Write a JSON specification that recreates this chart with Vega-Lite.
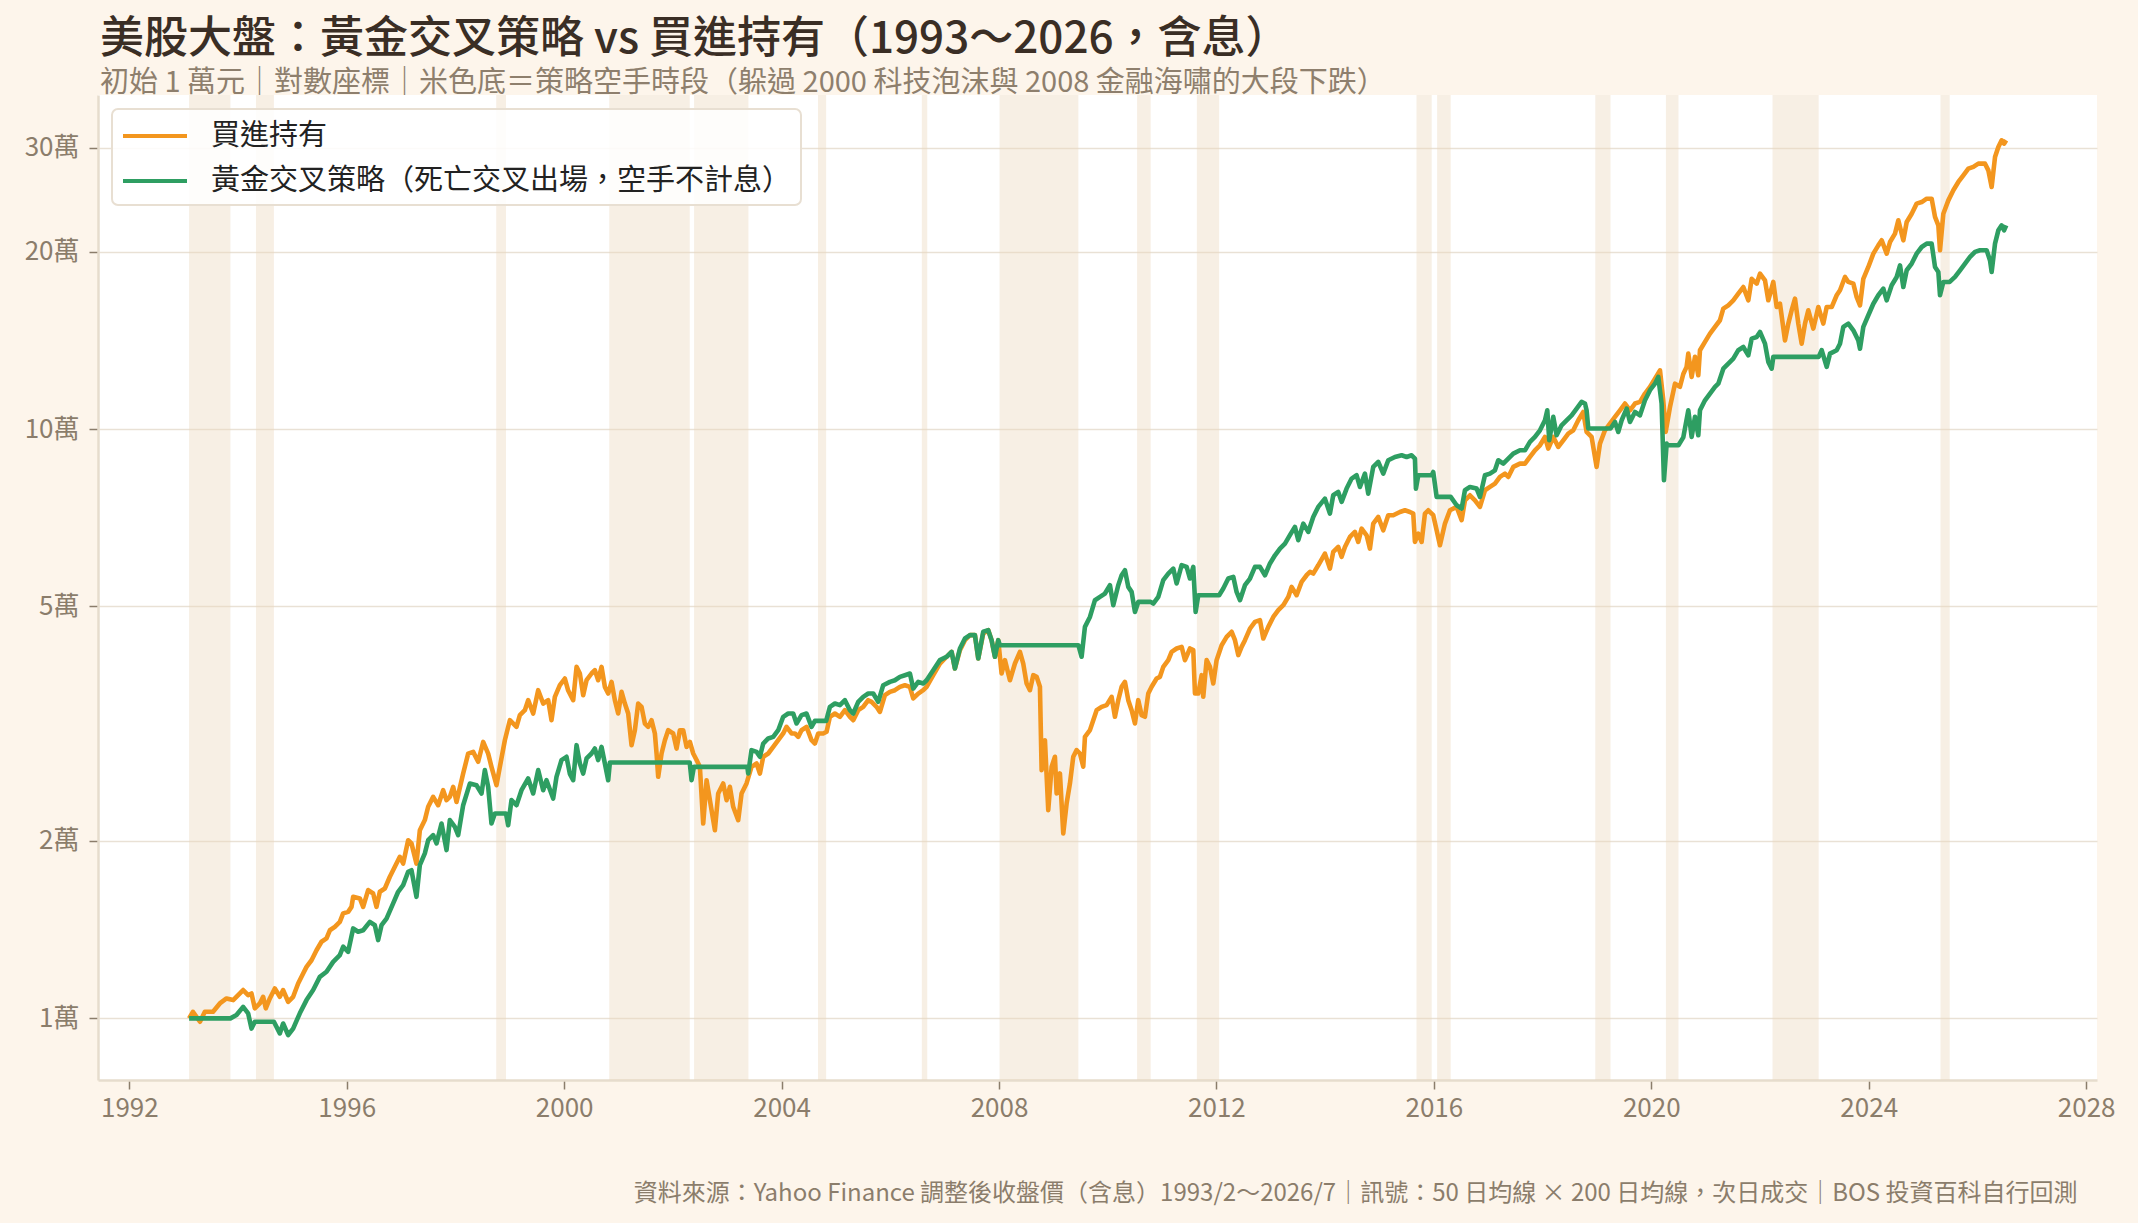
{
  "$schema": "https://vega.github.io/schema/vega-lite/v6.json",
  "width": 1999,
  "height": 985,
  "autosize": {"type": "none"},
  "padding": {"left": 98, "top": 95, "right": 41, "bottom": 143},
  "background": "#FDF5EB",
  "title": {
    "text": "美股大盤：黃金交叉策略 vs 買進持有（1993～2026，含息）",
    "subtitle": "初始 1 萬元｜對數座標｜米色底＝策略空手時段（躲過 2000 科技泡沫與 2008 金融海嘯的大段下跌）",
    "anchor": "start",
    "frame": "group",
    "offset": -3,
    "dx": 2,
    "font": "Noto Sans CJK TC",
    "fontSize": 44,
    "fontWeight": 500,
    "color": "#3A2E25",
    "subtitleFont": "Noto Sans CJK TC",
    "subtitleFontSize": 29,
    "subtitleColor": "#8E7F6D",
    "subtitlePadding": 7
  },
  "config": {
    "font": "Noto Sans CJK TC",
    "view": {"fill": "white", "stroke": null},
    "axisX": {
      "domainColor": "#E6DCCD", "domainWidth": 2.5,
      "tickColor": "#8B7D6B", "tickWidth": 1.5, "tickSize": 9,
      "labelColor": "#8B7D6B", "labelFontSize": 26, "labelPadding": 6,
      "labelFont": "Noto Sans CJK TC",
      "grid": false,
      "titleFont": "Noto Sans CJK TC", "titleFontSize": 24, "titleFontWeight": "normal",
      "titleColor": "#8B7D6B", "titleX": 1979, "titleY": 113,
      "titleAlign": "right", "titleBaseline": "middle"
    },
    "axisY": {
      "domainColor": "#E6DCCD", "domainWidth": 2.5,
      "tickColor": "#8B7D6B", "tickWidth": 1.5, "tickSize": 9,
      "labelColor": "#8B7D6B", "labelFontSize": 26, "labelPadding": 10,
      "labelFont": "Noto Sans CJK TC",
      "grid": true, "gridColor": "#E9E1D5", "gridWidth": 1.5,
      "title": null
    },
    "legend": {
      "orient": "top-left", "offset": 14,
      "symbolType": "M-1,0H3", "symbolSize": 1024, "symbolStrokeWidth": 4,
      "labelFont": "Noto Sans CJK TC", "labelFontSize": 29, "labelColor": "#222222",
      "labelOffset": 54, "labelLimit": 0,
      "padding": 9, "rowPadding": 12,
      "fillColor": "rgba(255,255,255,0.85)", "strokeColor": "#E8DFD2",
      "strokeWidth": 2, "cornerRadius": 6
    }
  },
  "datasets": {
    "bands": [
      {"year": 1993.10, "year_end": 1993.86},
      {"year": 1994.33, "year_end": 1994.66},
      {"year": 1998.75, "year_end": 1998.93},
      {"year": 2000.83, "year_end": 2002.31},
      {"year": 2002.39, "year_end": 2003.39},
      {"year": 2004.67, "year_end": 2004.82},
      {"year": 2006.58, "year_end": 2006.68},
      {"year": 2008.01, "year_end": 2009.46},
      {"year": 2010.54, "year_end": 2010.79},
      {"year": 2011.64, "year_end": 2012.05},
      {"year": 2015.68, "year_end": 2015.96},
      {"year": 2016.06, "year_end": 2016.31},
      {"year": 2018.97, "year_end": 2019.25},
      {"year": 2020.27, "year_end": 2020.50},
      {"year": 2022.23, "year_end": 2023.08},
      {"year": 2025.32, "year_end": 2025.49}
    ],
    "buyhold": [
      {"year":1993.10,"value":1.00,"series":"買進持有"},
      {"year":1993.17,"value":1.026,"series":"買進持有"},
      {"year":1993.30,"value":0.987,"series":"買進持有"},
      {"year":1993.39,"value":1.026,"series":"買進持有"},
      {"year":1993.54,"value":1.026,"series":"買進持有"},
      {"year":1993.665,"value":1.06,"series":"買進持有"},
      {"year":1993.788,"value":1.081,"series":"買進持有"},
      {"year":1993.91,"value":1.074,"series":"買進持有"},
      {"year":1994.094,"value":1.117,"series":"買進持有"},
      {"year":1994.186,"value":1.095,"series":"買進持有"},
      {"year":1994.248,"value":1.102,"series":"買進持有"},
      {"year":1994.309,"value":1.04,"series":"買進持有"},
      {"year":1994.401,"value":1.06,"series":"買進持有"},
      {"year":1994.462,"value":1.088,"series":"買進持有"},
      {"year":1994.511,"value":1.04,"series":"買進持有"},
      {"year":1994.585,"value":1.081,"series":"買進持有"},
      {"year":1994.677,"value":1.124,"series":"買進持有"},
      {"year":1994.769,"value":1.088,"series":"買進持有"},
      {"year":1994.83,"value":1.117,"series":"買進持有"},
      {"year":1994.922,"value":1.067,"series":"買進持有"},
      {"year":1995.014,"value":1.088,"series":"買進持有"},
      {"year":1995.106,"value":1.146,"series":"買進持有"},
      {"year":1995.198,"value":1.192,"series":"買進持有"},
      {"year":1995.26,"value":1.223,"series":"買進持有"},
      {"year":1995.352,"value":1.255,"series":"買進持有"},
      {"year":1995.444,"value":1.305,"series":"買進持有"},
      {"year":1995.536,"value":1.349,"series":"買進持有"},
      {"year":1995.628,"value":1.367,"series":"買進持有"},
      {"year":1995.689,"value":1.411,"series":"買進持有"},
      {"year":1995.781,"value":1.43,"series":"買進持有"},
      {"year":1995.873,"value":1.458,"series":"買進持有"},
      {"year":1995.934,"value":1.507,"series":"買進持有"},
      {"year":1996.026,"value":1.516,"series":"買進持有"},
      {"year":1996.088,"value":1.546,"series":"買進持有"},
      {"year":1996.118,"value":1.608,"series":"買進持有"},
      {"year":1996.241,"value":1.598,"series":"買進持有"},
      {"year":1996.302,"value":1.546,"series":"買進持有"},
      {"year":1996.394,"value":1.651,"series":"買進持有"},
      {"year":1996.486,"value":1.629,"series":"買進持有"},
      {"year":1996.548,"value":1.546,"series":"買進持有"},
      {"year":1996.609,"value":1.64,"series":"買進持有"},
      {"year":1996.701,"value":1.661,"series":"買進持有"},
      {"year":1996.793,"value":1.739,"series":"買進持有"},
      {"year":1996.885,"value":1.808,"series":"買進持有"},
      {"year":1996.977,"value":1.88,"series":"買進持有"},
      {"year":1997.038,"value":1.831,"series":"買進持有"},
      {"year":1997.13,"value":2.006,"series":"買進持有"},
      {"year":1997.191,"value":1.981,"series":"買進持有"},
      {"year":1997.283,"value":1.831,"series":"買進持有"},
      {"year":1997.345,"value":2.086,"series":"買進持有"},
      {"year":1997.437,"value":2.17,"series":"買進持有"},
      {"year":1997.498,"value":2.286,"series":"買進持有"},
      {"year":1997.59,"value":2.376,"series":"買進持有"},
      {"year":1997.682,"value":2.3,"series":"買進持有"},
      {"year":1997.774,"value":2.439,"series":"買進持有"},
      {"year":1997.836,"value":2.346,"series":"買進持有"},
      {"year":1997.897,"value":2.376,"series":"買進持有"},
      {"year":1997.958,"value":2.471,"series":"買進持有"},
      {"year":1998.02,"value":2.33,"series":"買進持有"},
      {"year":1998.142,"value":2.603,"series":"買進持有"},
      {"year":1998.234,"value":2.814,"series":"買進持有"},
      {"year":1998.326,"value":2.833,"series":"買進持有"},
      {"year":1998.418,"value":2.725,"series":"買進持有"},
      {"year":1998.51,"value":2.945,"series":"買進持有"},
      {"year":1998.602,"value":2.814,"series":"買進持有"},
      {"year":1998.663,"value":2.672,"series":"買進持有"},
      {"year":1998.755,"value":2.487,"series":"買進持有"},
      {"year":1998.817,"value":2.672,"series":"買進持有"},
      {"year":1998.909,"value":2.965,"series":"買進持有"},
      {"year":1999.001,"value":3.206,"series":"買進持有"},
      {"year":1999.123,"value":3.124,"series":"買進持有"},
      {"year":1999.185,"value":3.27,"series":"買進持有"},
      {"year":1999.277,"value":3.334,"series":"買進持有"},
      {"year":1999.338,"value":3.467,"series":"買進持有"},
      {"year":1999.43,"value":3.291,"series":"買進持有"},
      {"year":1999.522,"value":3.605,"series":"買進持有"},
      {"year":1999.614,"value":3.422,"series":"買進持有"},
      {"year":1999.706,"value":3.467,"series":"買進持有"},
      {"year":1999.767,"value":3.206,"series":"買進持有"},
      {"year":1999.829,"value":3.513,"series":"買進持有"},
      {"year":1999.921,"value":3.676,"series":"買進持有"},
      {"year":2000.013,"value":3.773,"series":"買進持有"},
      {"year":2000.074,"value":3.6,"series":"買進持有"},
      {"year":2000.166,"value":3.467,"series":"買進持有"},
      {"year":2000.228,"value":3.949,"series":"買進持有"},
      {"year":2000.289,"value":3.848,"series":"買進持有"},
      {"year":2000.35,"value":3.535,"series":"買進持有"},
      {"year":2000.412,"value":3.748,"series":"買進持有"},
      {"year":2000.504,"value":3.848,"series":"買進持有"},
      {"year":2000.565,"value":3.898,"series":"買進持有"},
      {"year":2000.626,"value":3.748,"series":"買進持有"},
      {"year":2000.688,"value":3.949,"series":"買進持有"},
      {"year":2000.749,"value":3.652,"series":"買進持有"},
      {"year":2000.81,"value":3.558,"series":"買進持有"},
      {"year":2000.872,"value":3.724,"series":"買進持有"},
      {"year":2000.933,"value":3.467,"series":"買進持有"},
      {"year":2000.994,"value":3.291,"series":"買進持有"},
      {"year":2001.056,"value":3.582,"series":"買進持有"},
      {"year":2001.117,"value":3.422,"series":"買進持有"},
      {"year":2001.178,"value":3.291,"series":"買進持有"},
      {"year":2001.24,"value":2.908,"series":"買進持有"},
      {"year":2001.301,"value":3.083,"series":"買進持有"},
      {"year":2001.362,"value":3.422,"series":"買進持有"},
      {"year":2001.424,"value":3.378,"series":"買進持有"},
      {"year":2001.485,"value":3.165,"series":"買進持有"},
      {"year":2001.546,"value":3.124,"series":"買進持有"},
      {"year":2001.608,"value":3.206,"series":"買進持有"},
      {"year":2001.669,"value":3.044,"series":"買進持有"},
      {"year":2001.70,"value":2.815,"series":"買進持有"},
      {"year":2001.73,"value":2.57,"series":"買進持有"},
      {"year":2001.792,"value":2.815,"series":"買進持有"},
      {"year":2001.853,"value":2.965,"series":"買進持有"},
      {"year":2001.914,"value":3.083,"series":"買進持有"},
      {"year":2002.006,"value":3.044,"series":"買進持有"},
      {"year":2002.068,"value":2.87,"series":"買進持有"},
      {"year":2002.129,"value":3.083,"series":"買進持有"},
      {"year":2002.19,"value":3.083,"series":"買進持有"},
      {"year":2002.252,"value":2.889,"series":"買進持有"},
      {"year":2002.313,"value":2.945,"series":"買進持有"},
      {"year":2002.374,"value":2.815,"series":"買進持有"},
      {"year":2002.436,"value":2.744,"series":"買進持有"},
      {"year":2002.497,"value":2.672,"series":"買進持有"},
      {"year":2002.558,"value":2.141,"series":"買進持有"},
      {"year":2002.62,"value":2.536,"series":"買進持有"},
      {"year":2002.681,"value":2.346,"series":"買進持有"},
      {"year":2002.773,"value":2.086,"series":"買進持有"},
      {"year":2002.834,"value":2.408,"series":"買進持有"},
      {"year":2002.926,"value":2.504,"series":"買進持有"},
      {"year":2002.988,"value":2.346,"series":"買進持有"},
      {"year":2003.049,"value":2.471,"series":"買進持有"},
      {"year":2003.11,"value":2.286,"series":"買進持有"},
      {"year":2003.202,"value":2.17,"series":"買進持有"},
      {"year":2003.264,"value":2.408,"series":"買進持有"},
      {"year":2003.355,"value":2.504,"series":"買進持有"},
      {"year":2003.447,"value":2.672,"series":"買進持有"},
      {"year":2003.54,"value":2.707,"series":"買進持有"},
      {"year":2003.601,"value":2.603,"series":"買進持有"},
      {"year":2003.662,"value":2.779,"series":"買進持有"},
      {"year":2003.754,"value":2.815,"series":"買進持有"},
      {"year":2003.846,"value":2.889,"series":"買進持有"},
      {"year":2003.938,"value":2.965,"series":"買進持有"},
      {"year":2004.03,"value":3.044,"series":"買進持有"},
      {"year":2004.091,"value":3.124,"series":"買進持有"},
      {"year":2004.183,"value":3.044,"series":"買進持有"},
      {"year":2004.245,"value":3.044,"series":"買進持有"},
      {"year":2004.306,"value":3.004,"series":"買進持有"},
      {"year":2004.367,"value":3.083,"series":"買進持有"},
      {"year":2004.459,"value":3.124,"series":"買進持有"},
      {"year":2004.551,"value":2.965,"series":"買進持有"},
      {"year":2004.613,"value":2.927,"series":"買進持有"},
      {"year":2004.674,"value":3.044,"series":"買進持有"},
      {"year":2004.766,"value":3.044,"series":"買進持有"},
      {"year":2004.828,"value":3.064,"series":"買進持有"},
      {"year":2004.889,"value":3.249,"series":"買進持有"},
      {"year":2004.981,"value":3.291,"series":"買進持有"},
      {"year":2005.073,"value":3.249,"series":"買進持有"},
      {"year":2005.165,"value":3.334,"series":"買進持有"},
      {"year":2005.257,"value":3.249,"series":"買進持有"},
      {"year":2005.318,"value":3.206,"series":"買進持有"},
      {"year":2005.41,"value":3.334,"series":"買進持有"},
      {"year":2005.502,"value":3.378,"series":"買進持有"},
      {"year":2005.594,"value":3.467,"series":"買進持有"},
      {"year":2005.656,"value":3.444,"series":"買進持有"},
      {"year":2005.747,"value":3.378,"series":"買進持有"},
      {"year":2005.809,"value":3.312,"series":"買進持有"},
      {"year":2005.901,"value":3.535,"series":"買進持有"},
      {"year":2005.993,"value":3.582,"series":"買進持有"},
      {"year":2006.085,"value":3.605,"series":"買進持有"},
      {"year":2006.177,"value":3.652,"series":"買進持有"},
      {"year":2006.269,"value":3.676,"series":"買進持有"},
      {"year":2006.361,"value":3.652,"series":"買進持有"},
      {"year":2006.422,"value":3.49,"series":"買進持有"},
      {"year":2006.514,"value":3.558,"series":"買進持有"},
      {"year":2006.606,"value":3.605,"series":"買進持有"},
      {"year":2006.668,"value":3.652,"series":"買進持有"},
      {"year":2006.79,"value":3.822,"series":"買進持有"},
      {"year":2006.913,"value":4.0,"series":"買進持有"},
      {"year":2007.036,"value":4.108,"series":"買進持有"},
      {"year":2007.128,"value":4.188,"series":"買進持有"},
      {"year":2007.189,"value":3.924,"series":"買進持有"},
      {"year":2007.281,"value":4.216,"series":"買進持有"},
      {"year":2007.373,"value":4.383,"series":"買進持有"},
      {"year":2007.465,"value":4.47,"series":"買進持有"},
      {"year":2007.557,"value":4.47,"series":"買進持有"},
      {"year":2007.618,"value":4.08,"series":"買進持有"},
      {"year":2007.71,"value":4.498,"series":"買進持有"},
      {"year":2007.802,"value":4.558,"series":"買進持有"},
      {"year":2007.864,"value":4.383,"series":"買進持有"},
      {"year":2007.925,"value":4.108,"series":"買進持有"},
      {"year":2007.986,"value":4.383,"series":"買進持有"},
      {"year":2008.048,"value":3.848,"series":"買進持有"},
      {"year":2008.109,"value":4.054,"series":"買進持有"},
      {"year":2008.201,"value":3.748,"series":"買進持有"},
      {"year":2008.293,"value":4.001,"series":"買進持有"},
      {"year":2008.385,"value":4.188,"series":"買進持有"},
      {"year":2008.446,"value":4.001,"series":"買進持有"},
      {"year":2008.508,"value":3.7,"series":"買進持有"},
      {"year":2008.569,"value":3.605,"series":"買進持有"},
      {"year":2008.63,"value":3.823,"series":"買進持有"},
      {"year":2008.692,"value":3.798,"series":"買進持有"},
      {"year":2008.753,"value":3.653,"series":"買進持有"},
      {"year":2008.784,"value":2.638,"series":"買進持有"},
      {"year":2008.845,"value":2.965,"series":"買進持有"},
      {"year":2008.906,"value":2.256,"series":"買進持有"},
      {"year":2008.968,"value":2.673,"series":"買進持有"},
      {"year":2009.029,"value":2.779,"series":"買進持有"},
      {"year":2009.06,"value":2.408,"series":"買進持有"},
      {"year":2009.121,"value":2.604,"series":"買進持有"},
      {"year":2009.182,"value":2.06,"series":"買進持有"},
      {"year":2009.244,"value":2.316,"series":"買進持有"},
      {"year":2009.305,"value":2.504,"series":"買進持有"},
      {"year":2009.366,"value":2.779,"series":"買進持有"},
      {"year":2009.428,"value":2.852,"series":"買進持有"},
      {"year":2009.489,"value":2.815,"series":"買進持有"},
      {"year":2009.55,"value":2.673,"series":"買進持有"},
      {"year":2009.581,"value":3.005,"series":"買進持有"},
      {"year":2009.673,"value":3.084,"series":"買進持有"},
      {"year":2009.734,"value":3.206,"series":"買進持有"},
      {"year":2009.796,"value":3.334,"series":"買進持有"},
      {"year":2009.888,"value":3.378,"series":"買進持有"},
      {"year":2009.98,"value":3.4,"series":"買進持有"},
      {"year":2010.072,"value":3.513,"series":"買進持有"},
      {"year":2010.133,"value":3.249,"series":"買進持有"},
      {"year":2010.194,"value":3.467,"series":"買進持有"},
      {"year":2010.256,"value":3.653,"series":"買進持有"},
      {"year":2010.317,"value":3.725,"series":"買進持有"},
      {"year":2010.378,"value":3.467,"series":"買進持有"},
      {"year":2010.44,"value":3.334,"series":"買進持有"},
      {"year":2010.501,"value":3.166,"series":"買進持有"},
      {"year":2010.562,"value":3.467,"series":"買進持有"},
      {"year":2010.624,"value":3.27,"series":"買進持有"},
      {"year":2010.685,"value":3.249,"series":"買進持有"},
      {"year":2010.746,"value":3.559,"series":"買進持有"},
      {"year":2010.808,"value":3.653,"series":"買進持有"},
      {"year":2010.9,"value":3.773,"series":"買進持有"},
      {"year":2010.961,"value":3.798,"series":"買進持有"},
      {"year":2011.022,"value":3.949,"series":"買進持有"},
      {"year":2011.114,"value":4.054,"series":"買進持有"},
      {"year":2011.176,"value":4.188,"series":"買進持有"},
      {"year":2011.268,"value":4.243,"series":"買進持有"},
      {"year":2011.36,"value":4.27,"series":"買進持有"},
      {"year":2011.421,"value":4.054,"series":"買進持有"},
      {"year":2011.513,"value":4.243,"series":"買進持有"},
      {"year":2011.574,"value":4.216,"series":"買進持有"},
      {"year":2011.605,"value":3.559,"series":"買進持有"},
      {"year":2011.666,"value":3.559,"series":"買進持有"},
      {"year":2011.728,"value":3.823,"series":"買進持有"},
      {"year":2011.758,"value":3.513,"series":"買進持有"},
      {"year":2011.819,"value":4.054,"series":"買進持有"},
      {"year":2011.881,"value":3.949,"series":"買進持有"},
      {"year":2011.942,"value":3.7,"series":"買進持有"},
      {"year":2012.003,"value":4.054,"series":"買進持有"},
      {"year":2012.096,"value":4.298,"series":"買進持有"},
      {"year":2012.188,"value":4.44,"series":"買進持有"},
      {"year":2012.28,"value":4.529,"series":"買進持有"},
      {"year":2012.341,"value":4.383,"series":"買進持有"},
      {"year":2012.402,"value":4.135,"series":"買進持有"},
      {"year":2012.463,"value":4.27,"series":"買進持有"},
      {"year":2012.525,"value":4.383,"series":"買進持有"},
      {"year":2012.617,"value":4.587,"series":"買進持有"},
      {"year":2012.709,"value":4.707,"series":"買進持有"},
      {"year":2012.801,"value":4.739,"series":"買進持有"},
      {"year":2012.862,"value":4.412,"series":"買進持有"},
      {"year":2012.954,"value":4.617,"series":"買進持有"},
      {"year":2013.046,"value":4.8,"series":"買進持有"},
      {"year":2013.138,"value":4.927,"series":"買進持有"},
      {"year":2013.23,"value":5.025,"series":"買進持有"},
      {"year":2013.322,"value":5.19,"series":"買進持有"},
      {"year":2013.383,"value":5.398,"series":"買進持有"},
      {"year":2013.475,"value":5.225,"series":"買進持有"},
      {"year":2013.567,"value":5.505,"series":"買進持有"},
      {"year":2013.659,"value":5.649,"series":"買進持有"},
      {"year":2013.721,"value":5.724,"series":"買進持有"},
      {"year":2013.781,"value":5.686,"series":"買進持有"},
      {"year":2013.873,"value":5.873,"series":"買進持有"},
      {"year":2013.996,"value":6.147,"series":"買進持有"},
      {"year":2014.088,"value":5.798,"series":"買進持有"},
      {"year":2014.149,"value":6.188,"series":"買進持有"},
      {"year":2014.241,"value":6.31,"series":"買進持有"},
      {"year":2014.303,"value":6.069,"series":"買進持有"},
      {"year":2014.364,"value":6.31,"series":"買進持有"},
      {"year":2014.456,"value":6.561,"series":"買進持有"},
      {"year":2014.548,"value":6.691,"series":"買進持有"},
      {"year":2014.609,"value":6.434,"series":"買進持有"},
      {"year":2014.671,"value":6.778,"series":"買進持有"},
      {"year":2014.763,"value":6.604,"series":"買進持有"},
      {"year":2014.824,"value":6.269,"series":"買進持有"},
      {"year":2014.885,"value":6.912,"series":"買進持有"},
      {"year":2014.977,"value":7.094,"series":"買進持有"},
      {"year":2015.069,"value":6.734,"series":"買進持有"},
      {"year":2015.161,"value":7.142,"series":"買進持有"},
      {"year":2015.253,"value":7.142,"series":"買進持有"},
      {"year":2015.376,"value":7.234,"series":"買進持有"},
      {"year":2015.468,"value":7.281,"series":"買進持有"},
      {"year":2015.56,"value":7.234,"series":"買進持有"},
      {"year":2015.621,"value":7.188,"series":"買進持有"},
      {"year":2015.652,"value":6.434,"series":"買進持有"},
      {"year":2015.713,"value":6.647,"series":"買進持有"},
      {"year":2015.775,"value":6.434,"series":"買進持有"},
      {"year":2015.836,"value":7.188,"series":"買進持有"},
      {"year":2015.897,"value":7.281,"series":"買進持有"},
      {"year":2015.989,"value":7.142,"series":"買進持有"},
      {"year":2016.051,"value":6.734,"series":"買進持有"},
      {"year":2016.112,"value":6.352,"series":"買進持有"},
      {"year":2016.204,"value":6.912,"series":"買進持有"},
      {"year":2016.296,"value":7.281,"series":"買進持有"},
      {"year":2016.419,"value":7.378,"series":"買進持有"},
      {"year":2016.511,"value":7.004,"series":"買進持有"},
      {"year":2016.572,"value":7.571,"series":"買進持有"},
      {"year":2016.664,"value":7.721,"series":"買進持有"},
      {"year":2016.756,"value":7.571,"series":"買進持有"},
      {"year":2016.848,"value":7.378,"series":"買進持有"},
      {"year":2016.94,"value":7.873,"series":"買進持有"},
      {"year":2017.032,"value":7.976,"series":"買進持有"},
      {"year":2017.124,"value":8.081,"series":"買進持有"},
      {"year":2017.216,"value":8.294,"series":"買進持有"},
      {"year":2017.308,"value":8.401,"series":"買進持有"},
      {"year":2017.369,"value":8.294,"series":"買進持有"},
      {"year":2017.461,"value":8.625,"series":"買進持有"},
      {"year":2017.584,"value":8.737,"series":"買進持有"},
      {"year":2017.676,"value":8.737,"series":"買進持有"},
      {"year":2017.768,"value":8.968,"series":"買進持有"},
      {"year":2017.86,"value":9.204,"series":"買進持有"},
      {"year":2017.952,"value":9.386,"series":"買進持有"},
      {"year":2018.044,"value":9.696,"series":"買進持有"},
      {"year":2018.105,"value":9.267,"series":"買進持有"},
      {"year":2018.197,"value":9.696,"series":"買進持有"},
      {"year":2018.289,"value":9.326,"series":"買進持有"},
      {"year":2018.381,"value":9.572,"series":"買進持有"},
      {"year":2018.473,"value":9.824,"series":"買進持有"},
      {"year":2018.565,"value":9.954,"series":"買進持有"},
      {"year":2018.657,"value":10.35,"series":"買進持有"},
      {"year":2018.749,"value":10.69,"series":"買進持有"},
      {"year":2018.81,"value":9.888,"series":"買進持有"},
      {"year":2018.902,"value":9.696,"series":"買進持有"},
      {"year":2018.994,"value":8.625,"series":"買進持有"},
      {"year":2019.056,"value":9.447,"series":"買進持有"},
      {"year":2019.148,"value":9.954,"series":"買進持有"},
      {"year":2019.24,"value":10.22,"series":"買進持有"},
      {"year":2019.332,"value":10.49,"series":"買進持有"},
      {"year":2019.424,"value":10.76,"series":"買進持有"},
      {"year":2019.516,"value":11.05,"series":"買進持有"},
      {"year":2019.608,"value":10.76,"series":"買進持有"},
      {"year":2019.70,"value":11.05,"series":"買進持有"},
      {"year":2019.792,"value":11.12,"series":"買進持有"},
      {"year":2019.884,"value":11.49,"series":"買進持有"},
      {"year":2019.976,"value":11.79,"series":"買進持有"},
      {"year":2020.068,"value":12.18,"series":"買進持有"},
      {"year":2020.16,"value":12.58,"series":"買進持有"},
      {"year":2020.221,"value":11.19,"series":"買進持有"},
      {"year":2020.265,"value":9.89,"series":"買進持有"},
      {"year":2020.344,"value":10.9,"series":"買進持有"},
      {"year":2020.436,"value":11.94,"series":"買進持有"},
      {"year":2020.528,"value":11.8,"series":"買進持有"},
      {"year":2020.589,"value":12.4,"series":"買進持有"},
      {"year":2020.65,"value":12.75,"series":"買進持有"},
      {"year":2020.681,"value":13.43,"series":"買進持有"},
      {"year":2020.743,"value":12.26,"series":"買進持有"},
      {"year":2020.804,"value":13.26,"series":"買進持有"},
      {"year":2020.865,"value":12.34,"series":"買進持有"},
      {"year":2020.896,"value":13.61,"series":"買進持有"},
      {"year":2020.988,"value":14.06,"series":"買進持有"},
      {"year":2021.08,"value":14.52,"series":"買進持有"},
      {"year":2021.172,"value":14.91,"series":"買進持有"},
      {"year":2021.264,"value":15.3,"series":"買進持有"},
      {"year":2021.325,"value":16.01,"series":"買進持有"},
      {"year":2021.417,"value":16.22,"series":"買進持有"},
      {"year":2021.509,"value":16.54,"series":"買進持有"},
      {"year":2021.601,"value":16.98,"series":"買進持有"},
      {"year":2021.693,"value":17.42,"series":"買進持有"},
      {"year":2021.785,"value":16.54,"series":"買進持有"},
      {"year":2021.847,"value":17.99,"series":"買進持有"},
      {"year":2021.939,"value":17.65,"series":"買進持有"},
      {"year":2022.0,"value":18.35,"series":"買進持有"},
      {"year":2022.092,"value":17.88,"series":"買進持有"},
      {"year":2022.153,"value":16.54,"series":"買進持有"},
      {"year":2022.245,"value":17.77,"series":"買進持有"},
      {"year":2022.307,"value":16.11,"series":"買進持有"},
      {"year":2022.368,"value":16.32,"series":"買進持有"},
      {"year":2022.46,"value":14.14,"series":"買進持有"},
      {"year":2022.521,"value":15.1,"series":"買進持有"},
      {"year":2022.583,"value":15.91,"series":"買進持有"},
      {"year":2022.644,"value":16.65,"series":"買進持有"},
      {"year":2022.705,"value":15.1,"series":"買進持有"},
      {"year":2022.767,"value":13.96,"series":"買進持有"},
      {"year":2022.828,"value":15.1,"series":"買進持有"},
      {"year":2022.889,"value":15.91,"series":"買進持有"},
      {"year":2022.981,"value":14.81,"series":"買進持有"},
      {"year":2023.073,"value":16.11,"series":"買進持有"},
      {"year":2023.165,"value":15.1,"series":"買進持有"},
      {"year":2023.227,"value":16.11,"series":"買進持有"},
      {"year":2023.319,"value":16.11,"series":"買進持有"},
      {"year":2023.411,"value":16.87,"series":"買進持有"},
      {"year":2023.472,"value":17.2,"series":"買進持有"},
      {"year":2023.564,"value":18.12,"series":"買進持有"},
      {"year":2023.625,"value":17.77,"series":"買進持有"},
      {"year":2023.717,"value":17.65,"series":"買進持有"},
      {"year":2023.779,"value":16.75,"series":"買進持有"},
      {"year":2023.84,"value":16.22,"series":"買進持有"},
      {"year":2023.901,"value":17.99,"series":"買進持有"},
      {"year":2023.993,"value":18.84,"series":"買進持有"},
      {"year":2024.085,"value":19.85,"series":"買進持有"},
      {"year":2024.177,"value":20.5,"series":"買進持有"},
      {"year":2024.239,"value":20.91,"series":"買進持有"},
      {"year":2024.331,"value":19.85,"series":"買進持有"},
      {"year":2024.392,"value":20.77,"series":"買進持有"},
      {"year":2024.484,"value":21.46,"series":"買進持有"},
      {"year":2024.545,"value":22.61,"series":"買進持有"},
      {"year":2024.637,"value":20.91,"series":"買進持有"},
      {"year":2024.699,"value":22.46,"series":"買進持有"},
      {"year":2024.791,"value":23.2,"series":"買進持有"},
      {"year":2024.882,"value":24.13,"series":"買進持有"},
      {"year":2024.975,"value":24.28,"series":"買進持有"},
      {"year":2025.067,"value":24.6,"series":"買進持有"},
      {"year":2025.158,"value":24.6,"series":"買進持有"},
      {"year":2025.22,"value":22.91,"series":"買進持有"},
      {"year":2025.281,"value":22.17,"series":"買進持有"},
      {"year":2025.312,"value":20.11,"series":"買進持有"},
      {"year":2025.373,"value":23.2,"series":"買進持有"},
      {"year":2025.465,"value":24.44,"series":"買進持有"},
      {"year":2025.557,"value":25.42,"series":"買進持有"},
      {"year":2025.649,"value":26.26,"series":"買進持有"},
      {"year":2025.741,"value":26.95,"series":"買進持有"},
      {"year":2025.833,"value":27.66,"series":"買進持有"},
      {"year":2025.925,"value":27.85,"series":"買進持有"},
      {"year":2026.017,"value":28.21,"series":"買進持有"},
      {"year":2026.14,"value":28.21,"series":"買進持有"},
      {"year":2026.201,"value":27.48,"series":"買進持有"},
      {"year":2026.262,"value":25.75,"series":"買進持有"},
      {"year":2026.324,"value":28.95,"series":"買進持有"},
      {"year":2026.385,"value":30.1,"series":"買進持有"},
      {"year":2026.446,"value":30.9,"series":"買進持有"},
      {"year":2026.49,"value":30.5,"series":"買進持有"},
      {"year":2026.53,"value":30.9,"series":"買進持有"}
    ],
    "golden": [
      {"year":1993.10,"value":1.0,"series":"黃金交叉策略（死亡交叉出場，空手不計息）"},
      {"year":1993.86,"value":1.0,"series":"黃金交叉策略（死亡交叉出場，空手不計息）"},
      {"year":1993.972,"value":1.013,"series":"黃金交叉策略（死亡交叉出場，空手不計息）"},
      {"year":1994.094,"value":1.046,"series":"黃金交叉策略（死亡交叉出場，空手不計息）"},
      {"year":1994.186,"value":1.02,"series":"黃金交叉策略（死亡交叉出場，空手不計息）"},
      {"year":1994.248,"value":0.961,"series":"黃金交叉策略（死亡交叉出場，空手不計息）"},
      {"year":1994.309,"value":0.987,"series":"黃金交叉策略（死亡交叉出場，空手不計息）"},
      {"year":1994.66,"value":0.987,"series":"黃金交叉策略（死亡交叉出場，空手不計息）"},
      {"year":1994.769,"value":0.943,"series":"黃金交叉策略（死亡交叉出場，空手不計息）"},
      {"year":1994.83,"value":0.98,"series":"黃金交叉策略（死亡交叉出場，空手不計息）"},
      {"year":1994.922,"value":0.937,"series":"黃金交叉策略（死亡交叉出場，空手不計息）"},
      {"year":1995.014,"value":0.961,"series":"黃金交叉策略（死亡交叉出場，空手不計息）"},
      {"year":1995.137,"value":1.02,"series":"黃金交叉策略（死亡交叉出場，空手不計息）"},
      {"year":1995.26,"value":1.074,"series":"黃金交叉策略（死亡交叉出場，空手不計息）"},
      {"year":1995.382,"value":1.117,"series":"黃金交叉策略（死亡交叉出場，空手不計息）"},
      {"year":1995.505,"value":1.176,"series":"黃金交叉策略（死亡交叉出場，空手不計息）"},
      {"year":1995.628,"value":1.2,"series":"黃金交叉策略（死亡交叉出場，空手不計息）"},
      {"year":1995.75,"value":1.247,"series":"黃金交叉策略（死亡交叉出場，空手不計息）"},
      {"year":1995.873,"value":1.28,"series":"黃金交叉策略（死亡交叉出場，空手不計息）"},
      {"year":1995.934,"value":1.323,"series":"黃金交叉策略（死亡交叉出場，空手不計息）"},
      {"year":1996.026,"value":1.297,"series":"黃金交叉策略（死亡交叉出場，空手不計息）"},
      {"year":1996.118,"value":1.421,"series":"黃金交叉策略（死亡交叉出場，空手不計息）"},
      {"year":1996.21,"value":1.403,"series":"黃金交叉策略（死亡交叉出場，空手不計息）"},
      {"year":1996.302,"value":1.411,"series":"黃金交叉策略（死亡交叉出場，空手不計息）"},
      {"year":1996.425,"value":1.458,"series":"黃金交叉策略（死亡交叉出場，空手不計息）"},
      {"year":1996.517,"value":1.439,"series":"黃金交叉策略（死亡交叉出場，空手不計息）"},
      {"year":1996.578,"value":1.358,"series":"黃金交叉策略（死亡交叉出場，空手不計息）"},
      {"year":1996.64,"value":1.439,"series":"黃金交叉策略（死亡交叉出場，空手不計息）"},
      {"year":1996.732,"value":1.477,"series":"黃金交叉策略（死亡交叉出場，空手不計息）"},
      {"year":1996.854,"value":1.567,"series":"黃金交叉策略（死亡交叉出場，空手不計息）"},
      {"year":1996.946,"value":1.64,"series":"黃金交叉策略（死亡交叉出場，空手不計息）"},
      {"year":1997.038,"value":1.683,"series":"黃金交叉策略（死亡交叉出場，空手不計息）"},
      {"year":1997.13,"value":1.773,"series":"黃金交叉策略（死亡交叉出場，空手不計息）"},
      {"year":1997.191,"value":1.784,"series":"黃金交叉策略（死亡交叉出場，空手不計息）"},
      {"year":1997.283,"value":1.608,"series":"黃金交叉策略（死亡交叉出場，空手不計息）"},
      {"year":1997.345,"value":1.82,"series":"黃金交叉策略（死亡交叉出場，空手不計息）"},
      {"year":1997.437,"value":1.905,"series":"黃金交叉策略（死亡交叉出場，空手不計息）"},
      {"year":1997.498,"value":2.006,"series":"黃金交叉策略（死亡交叉出場，空手不計息）"},
      {"year":1997.59,"value":2.046,"series":"黃金交叉策略（死亡交叉出場，空手不計息）"},
      {"year":1997.652,"value":1.981,"series":"黃金交叉策略（死亡交叉出場，空手不計息）"},
      {"year":1997.744,"value":2.141,"series":"黃金交叉策略（死亡交叉出場，空手不計息）"},
      {"year":1997.836,"value":1.93,"series":"黃金交叉策略（死亡交叉出場，空手不計息）"},
      {"year":1997.897,"value":2.17,"series":"黃金交叉策略（死亡交叉出場，空手不計息）"},
      {"year":1997.989,"value":2.113,"series":"黃金交叉策略（死亡交叉出場，空手不計息）"},
      {"year":1998.05,"value":2.046,"series":"黃金交叉策略（死亡交叉出場，空手不計息）"},
      {"year":1998.142,"value":2.3,"series":"黃金交叉策略（死亡交叉出場，空手不計息）"},
      {"year":1998.265,"value":2.503,"series":"黃金交叉策略（死亡交叉出場，空手不計息）"},
      {"year":1998.387,"value":2.487,"series":"黃金交叉策略（死亡交叉出場，空手不計息）"},
      {"year":1998.48,"value":2.408,"series":"黃金交叉策略（死亡交叉出場，空手不計息）"},
      {"year":1998.541,"value":2.638,"series":"黃金交叉策略（死亡交叉出場，空手不計息）"},
      {"year":1998.602,"value":2.471,"series":"黃金交叉策略（死亡交叉出場，空手不計息）"},
      {"year":1998.663,"value":2.141,"series":"黃金交叉策略（死亡交叉出場，空手不計息）"},
      {"year":1998.725,"value":2.227,"series":"黃金交叉策略（死亡交叉出場，空手不計息）"},
      {"year":1998.93,"value":2.227,"series":"黃金交叉策略（死亡交叉出場，空手不計息）"},
      {"year":1998.97,"value":2.127,"series":"黃金交叉策略（死亡交叉出場，空手不計息）"},
      {"year":1999.031,"value":2.346,"series":"黃金交叉策略（死亡交叉出場，空手不計息）"},
      {"year":1999.123,"value":2.3,"series":"黃金交叉策略（死亡交叉出場，空手不計息）"},
      {"year":1999.215,"value":2.439,"series":"黃金交叉策略（死亡交叉出場，空手不計息）"},
      {"year":1999.338,"value":2.553,"series":"黃金交叉策略（死亡交叉出場，空手不計息）"},
      {"year":1999.43,"value":2.408,"series":"黃金交叉策略（死亡交叉出場，空手不計息）"},
      {"year":1999.522,"value":2.638,"series":"黃金交叉策略（死亡交叉出場，空手不計息）"},
      {"year":1999.614,"value":2.439,"series":"黃金交叉策略（死亡交叉出場，空手不計息）"},
      {"year":1999.675,"value":2.536,"series":"黃金交叉策略（死亡交叉出場，空手不計息）"},
      {"year":1999.798,"value":2.361,"series":"黃金交叉策略（死亡交叉出場，空手不計息）"},
      {"year":1999.859,"value":2.57,"series":"黃金交叉策略（死亡交叉出場，空手不計息）"},
      {"year":1999.951,"value":2.743,"series":"黃金交叉策略（死亡交叉出場，空手不計息）"},
      {"year":2000.043,"value":2.779,"series":"黃金交叉策略（死亡交叉出場，空手不計息）"},
      {"year":2000.105,"value":2.6,"series":"黃金交叉策略（死亡交叉出場，空手不計息）"},
      {"year":2000.166,"value":2.536,"series":"黃金交叉策略（死亡交叉出場，空手不計息）"},
      {"year":2000.228,"value":2.908,"series":"黃金交叉策略（死亡交叉出場，空手不計息）"},
      {"year":2000.289,"value":2.707,"series":"黃金交叉策略（死亡交叉出場，空手不計息）"},
      {"year":2000.35,"value":2.603,"series":"黃金交叉策略（死亡交叉出場，空手不計息）"},
      {"year":2000.412,"value":2.761,"series":"黃金交叉策略（死亡交叉出場，空手不計息）"},
      {"year":2000.504,"value":2.815,"series":"黃金交叉策略（死亡交叉出場，空手不計息）"},
      {"year":2000.565,"value":2.87,"series":"黃金交叉策略（死亡交叉出場，空手不計息）"},
      {"year":2000.626,"value":2.744,"series":"黃金交叉策略（死亡交叉出場，空手不計息）"},
      {"year":2000.688,"value":2.889,"series":"黃金交叉策略（死亡交叉出場，空手不計息）"},
      {"year":2000.749,"value":2.707,"series":"黃金交叉策略（死亡交叉出場，空手不計息）"},
      {"year":2000.81,"value":2.536,"series":"黃金交叉策略（死亡交叉出場，空手不計息）"},
      {"year":2000.841,"value":2.718,"series":"黃金交叉策略（死亡交叉出場，空手不計息）"},
      {"year":2002.31,"value":2.718,"series":"黃金交叉策略（死亡交叉出場，空手不計息）"},
      {"year":2002.344,"value":2.536,"series":"黃金交叉策略（死亡交叉出場，空手不計息）"},
      {"year":2002.387,"value":2.672,"series":"黃金交叉策略（死亡交叉出場，空手不計息）"},
      {"year":2003.37,"value":2.672,"series":"黃金交叉策略（死亡交叉出場，空手不計息）"},
      {"year":2003.386,"value":2.603,"series":"黃金交叉策略（死亡交叉出場，空手不計息）"},
      {"year":2003.447,"value":2.852,"series":"黃金交叉策略（死亡交叉出場，空手不計息）"},
      {"year":2003.54,"value":2.833,"series":"黃金交叉策略（死亡交叉出場，空手不計息）"},
      {"year":2003.601,"value":2.779,"series":"黃金交叉策略（死亡交叉出場，空手不計息）"},
      {"year":2003.662,"value":2.927,"series":"黃金交叉策略（死亡交叉出場，空手不計息）"},
      {"year":2003.754,"value":2.985,"series":"黃金交叉策略（死亡交叉出場，空手不計息）"},
      {"year":2003.846,"value":3.004,"series":"黃金交叉策略（死亡交叉出場，空手不計息）"},
      {"year":2003.938,"value":3.083,"series":"黃金交叉策略（死亡交叉出場，空手不計息）"},
      {"year":2004.03,"value":3.249,"series":"黃金交叉策略（死亡交叉出場，空手不計息）"},
      {"year":2004.122,"value":3.291,"series":"黃金交叉策略（死亡交叉出場，空手不計息）"},
      {"year":2004.214,"value":3.291,"series":"黃金交叉策略（死亡交叉出場，空手不計息）"},
      {"year":2004.275,"value":3.165,"series":"黃金交叉策略（死亡交叉出場，空手不計息）"},
      {"year":2004.367,"value":3.27,"series":"黃金交叉策略（死亡交叉出場，空手不計息）"},
      {"year":2004.459,"value":3.291,"series":"黃金交叉策略（死亡交叉出場，空手不計息）"},
      {"year":2004.551,"value":3.124,"series":"黃金交叉策略（死亡交叉出場，空手不計息）"},
      {"year":2004.613,"value":3.198,"series":"黃金交叉策略（死亡交叉出場，空手不計息）"},
      {"year":2004.82,"value":3.198,"series":"黃金交叉策略（死亡交叉出場，空手不計息）"},
      {"year":2004.889,"value":3.378,"series":"黃金交叉策略（死亡交叉出場，空手不計息）"},
      {"year":2004.981,"value":3.422,"series":"黃金交叉策略（死亡交叉出場，空手不計息）"},
      {"year":2005.073,"value":3.4,"series":"黃金交叉策略（死亡交叉出場，空手不計息）"},
      {"year":2005.165,"value":3.467,"series":"黃金交叉策略（死亡交叉出場，空手不計息）"},
      {"year":2005.257,"value":3.334,"series":"黃金交叉策略（死亡交叉出場，空手不計息）"},
      {"year":2005.318,"value":3.291,"series":"黃金交叉策略（死亡交叉出場，空手不計息）"},
      {"year":2005.41,"value":3.444,"series":"黃金交叉策略（死亡交叉出場，空手不計息）"},
      {"year":2005.502,"value":3.513,"series":"黃金交叉策略（死亡交叉出場，空手不計息）"},
      {"year":2005.594,"value":3.558,"series":"黃金交叉策略（死亡交叉出場，空手不計息）"},
      {"year":2005.686,"value":3.558,"series":"黃金交叉策略（死亡交叉出場，空手不計息）"},
      {"year":2005.778,"value":3.444,"series":"黃金交叉策略（死亡交叉出場，空手不計息）"},
      {"year":2005.87,"value":3.676,"series":"黃金交叉策略（死亡交叉出場，空手不計息）"},
      {"year":2005.993,"value":3.724,"series":"黃金交叉策略（死亡交叉出場，空手不計息）"},
      {"year":2006.085,"value":3.748,"series":"黃金交叉策略（死亡交叉出場，空手不計息）"},
      {"year":2006.177,"value":3.798,"series":"黃金交叉策略（死亡交叉出場，空手不計息）"},
      {"year":2006.269,"value":3.822,"series":"黃金交叉策略（死亡交叉出場，空手不計息）"},
      {"year":2006.361,"value":3.848,"series":"黃金交叉策略（死亡交叉出場，空手不計息）"},
      {"year":2006.422,"value":3.628,"series":"黃金交叉策略（死亡交叉出場，空手不計息）"},
      {"year":2006.514,"value":3.724,"series":"黃金交叉策略（死亡交叉出場，空手不計息）"},
      {"year":2006.606,"value":3.7,"series":"黃金交叉策略（死亡交叉出場，空手不計息）"},
      {"year":2006.668,"value":3.748,"series":"黃金交叉策略（死亡交叉出場，空手不計息）"},
      {"year":2006.79,"value":3.898,"series":"黃金交叉策略（死亡交叉出場，空手不計息）"},
      {"year":2006.913,"value":4.054,"series":"黃金交叉策略（死亡交叉出場，空手不計息）"},
      {"year":2007.036,"value":4.108,"series":"黃金交叉策略（死亡交叉出場，空手不計息）"},
      {"year":2007.128,"value":4.188,"series":"黃金交叉策略（死亡交叉出場，空手不計息）"},
      {"year":2007.189,"value":3.924,"series":"黃金交叉策略（死亡交叉出場，空手不計息）"},
      {"year":2007.281,"value":4.243,"series":"黃金交叉策略（死亡交叉出場，空手不計息）"},
      {"year":2007.373,"value":4.412,"series":"黃金交叉策略（死亡交叉出場，空手不計息）"},
      {"year":2007.465,"value":4.47,"series":"黃金交叉策略（死亡交叉出場，空手不計息）"},
      {"year":2007.557,"value":4.47,"series":"黃金交叉策略（死亡交叉出場，空手不計息）"},
      {"year":2007.618,"value":4.08,"series":"黃金交叉策略（死亡交叉出場，空手不計息）"},
      {"year":2007.71,"value":4.529,"series":"黃金交叉策略（死亡交叉出場，空手不計息）"},
      {"year":2007.802,"value":4.558,"series":"黃金交叉策略（死亡交叉出場，空手不計息）"},
      {"year":2007.864,"value":4.383,"series":"黃金交叉策略（死亡交叉出場，空手不計息）"},
      {"year":2007.925,"value":4.108,"series":"黃金交叉策略（死亡交叉出場，空手不計息）"},
      {"year":2007.986,"value":4.383,"series":"黃金交叉策略（死亡交叉出場，空手不計息）"},
      {"year":2008.017,"value":4.298,"series":"黃金交叉策略（死亡交叉出場，空手不計息）"},
      {"year":2009.46,"value":4.298,"series":"黃金交叉策略（死亡交叉出場，空手不計息）"},
      {"year":2009.52,"value":4.108,"series":"黃金交叉策略（死亡交叉出場，空手不計息）"},
      {"year":2009.581,"value":4.617,"series":"黃金交叉策略（死亡交叉出場，空手不計息）"},
      {"year":2009.673,"value":4.8,"series":"黃金交叉策略（死亡交叉出場，空手不計息）"},
      {"year":2009.765,"value":5.124,"series":"黃金交叉策略（死亡交叉出場，空手不計息）"},
      {"year":2009.857,"value":5.19,"series":"黃金交叉策略（死亡交叉出場，空手不計息）"},
      {"year":2009.949,"value":5.259,"series":"黃金交叉策略（死亡交叉出場，空手不計息）"},
      {"year":2010.041,"value":5.433,"series":"黃金交叉策略（死亡交叉出場，空手不計息）"},
      {"year":2010.102,"value":5.025,"series":"黃金交叉策略（死亡交叉出場，空手不計息）"},
      {"year":2010.194,"value":5.433,"series":"黃金交叉策略（死亡交叉出場，空手不計息）"},
      {"year":2010.256,"value":5.649,"series":"黃金交叉策略（死亡交叉出場，空手不計息）"},
      {"year":2010.317,"value":5.761,"series":"黃金交叉策略（死亡交叉出場，空手不計息）"},
      {"year":2010.378,"value":5.398,"series":"黃金交叉策略（死亡交叉出場，空手不計息）"},
      {"year":2010.44,"value":5.293,"series":"黃金交叉策略（死亡交叉出場，空手不計息）"},
      {"year":2010.501,"value":4.895,"series":"黃金交叉策略（死亡交叉出場，空手不計息）"},
      {"year":2010.562,"value":5.09,"series":"黃金交叉策略（死亡交叉出場，空手不計息）"},
      {"year":2010.79,"value":5.09,"series":"黃金交叉策略（死亡交叉出場，空手不計息）"},
      {"year":2010.838,"value":5.057,"series":"黃金交叉策略（死亡交叉出場，空手不計息）"},
      {"year":2010.93,"value":5.19,"series":"黃金交叉策略（死亡交叉出場，空手不計息）"},
      {"year":2011.022,"value":5.541,"series":"黃金交叉策略（死亡交叉出場，空手不計息）"},
      {"year":2011.114,"value":5.686,"series":"黃金交叉策略（死亡交叉出場，空手不計息）"},
      {"year":2011.206,"value":5.798,"series":"黃金交叉策略（死亡交叉出場，空手不計息）"},
      {"year":2011.268,"value":5.47,"series":"黃金交叉策略（死亡交叉出場，空手不計息）"},
      {"year":2011.36,"value":5.875,"series":"黃金交叉策略（死亡交叉出場，空手不計息）"},
      {"year":2011.452,"value":5.837,"series":"黃金交叉策略（死亡交叉出場，空手不計息）"},
      {"year":2011.513,"value":5.577,"series":"黃金交叉策略（死亡交叉出場，空手不計息）"},
      {"year":2011.574,"value":5.837,"series":"黃金交叉策略（死亡交叉出場，空手不計息）"},
      {"year":2011.617,"value":4.895,"series":"黃金交叉策略（死亡交叉出場，空手不計息）"},
      {"year":2011.666,"value":5.225,"series":"黃金交叉策略（死亡交叉出場，空手不計息）"},
      {"year":2012.05,"value":5.225,"series":"黃金交叉策略（死亡交叉出場，空手不計息）"},
      {"year":2012.126,"value":5.362,"series":"黃金交叉策略（死亡交叉出場，空手不計息）"},
      {"year":2012.218,"value":5.577,"series":"黃金交叉策略（死亡交叉出場，空手不計息）"},
      {"year":2012.31,"value":5.614,"series":"黃金交叉策略（死亡交叉出場，空手不計息）"},
      {"year":2012.371,"value":5.293,"series":"黃金交叉策略（死亡交叉出場，空手不計息）"},
      {"year":2012.433,"value":5.124,"series":"黃金交叉策略（死亡交叉出場，空手不計息）"},
      {"year":2012.525,"value":5.433,"series":"黃金交叉策略（死亡交叉出場，空手不計息）"},
      {"year":2012.617,"value":5.577,"series":"黃金交叉策略（死亡交叉出場，空手不計息）"},
      {"year":2012.709,"value":5.837,"series":"黃金交叉策略（死亡交叉出場，空手不計息）"},
      {"year":2012.801,"value":5.837,"series":"黃金交叉策略（死亡交叉出場，空手不計息）"},
      {"year":2012.893,"value":5.649,"series":"黃金交叉策略（死亡交叉出場，空手不計息）"},
      {"year":2012.985,"value":5.915,"series":"黃金交叉策略（死亡交叉出場，空手不計息）"},
      {"year":2013.077,"value":6.107,"series":"黃金交叉策略（死亡交叉出場，空手不計息）"},
      {"year":2013.169,"value":6.269,"series":"黃金交叉策略（死亡交叉出場，空手不計息）"},
      {"year":2013.261,"value":6.393,"series":"黃金交叉策略（死亡交叉出場，空手不計息）"},
      {"year":2013.352,"value":6.606,"series":"黃金交叉策略（死亡交叉出場，空手不計息）"},
      {"year":2013.444,"value":6.823,"series":"黃金交叉策略（死亡交叉出場，空手不計息）"},
      {"year":2013.506,"value":6.478,"series":"黃金交叉策略（死亡交叉出場，空手不計息）"},
      {"year":2013.598,"value":6.912,"series":"黃金交叉策略（死亡交叉出場，空手不計息）"},
      {"year":2013.689,"value":6.691,"series":"黃金交叉策略（死亡交叉出場，空手不計息）"},
      {"year":2013.781,"value":7.094,"series":"黃金交叉策略（死亡交叉出場，空手不計息）"},
      {"year":2013.873,"value":7.378,"series":"黃金交叉策略（死亡交叉出場，空手不計息）"},
      {"year":2013.996,"value":7.621,"series":"黃金交叉策略（死亡交叉出場，空手不計息）"},
      {"year":2014.088,"value":7.188,"series":"黃金交叉策略（死亡交叉出場，空手不計息）"},
      {"year":2014.149,"value":7.721,"series":"黃金交叉策略（死亡交叉出場，空手不計息）"},
      {"year":2014.241,"value":7.822,"series":"黃金交叉策略（死亡交叉出場，空手不計息）"},
      {"year":2014.303,"value":7.524,"series":"黃金交叉策略（死亡交叉出場，空手不計息）"},
      {"year":2014.395,"value":7.925,"series":"黃金交叉策略（死亡交叉出場，空手不計息）"},
      {"year":2014.487,"value":8.241,"series":"黃金交叉策略（死亡交叉出場，空手不計息）"},
      {"year":2014.579,"value":8.348,"series":"黃金交叉策略（死亡交叉出場，空手不計息）"},
      {"year":2014.64,"value":7.976,"series":"黃金交叉策略（死亡交叉出場，空手不計息）"},
      {"year":2014.732,"value":8.401,"series":"黃金交叉策略（死亡交叉出場，空手不計息）"},
      {"year":2014.793,"value":7.771,"series":"黃金交叉策略（死亡交叉出場，空手不計息）"},
      {"year":2014.885,"value":8.625,"series":"黃金交叉策略（死亡交叉出場，空手不計息）"},
      {"year":2014.977,"value":8.794,"series":"黃金交叉策略（死亡交叉出場，空手不計息）"},
      {"year":2015.069,"value":8.401,"series":"黃金交叉策略（死亡交叉出場，空手不計息）"},
      {"year":2015.161,"value":8.853,"series":"黃金交叉策略（死亡交叉出場，空手不計息）"},
      {"year":2015.284,"value":8.968,"series":"黃金交叉策略（死亡交叉出場，空手不計息）"},
      {"year":2015.407,"value":9.027,"series":"黃金交叉策略（死亡交叉出場，空手不計息）"},
      {"year":2015.499,"value":8.968,"series":"黃金交叉策略（死亡交叉出場，空手不計息）"},
      {"year":2015.591,"value":9.027,"series":"黃金交叉策略（死亡交叉出場，空手不計息）"},
      {"year":2015.652,"value":8.911,"series":"黃金交叉策略（死亡交叉出場，空手不計息）"},
      {"year":2015.67,"value":7.925,"series":"黃金交叉策略（死亡交叉出場，空手不計息）"},
      {"year":2015.713,"value":8.348,"series":"黃金交叉策略（死亡交叉出場，空手不計息）"},
      {"year":2015.96,"value":8.348,"series":"黃金交叉策略（死亡交叉出場，空手不計息）"},
      {"year":2015.989,"value":8.457,"series":"黃金交叉策略（死亡交叉出場，空手不計息）"},
      {"year":2016.051,"value":7.672,"series":"黃金交叉策略（死亡交叉出場，空手不計息）"},
      {"year":2016.31,"value":7.672,"series":"黃金交叉策略（死亡交叉出場，空手不計息）"},
      {"year":2016.419,"value":7.426,"series":"黃金交叉策略（死亡交叉出場，空手不計息）"},
      {"year":2016.511,"value":7.331,"series":"黃金交叉策略（死亡交叉出場，空手不計息）"},
      {"year":2016.572,"value":7.873,"series":"黃金交叉策略（死亡交叉出場，空手不計息）"},
      {"year":2016.664,"value":7.976,"series":"黃金交叉策略（死亡交叉出場，空手不計息）"},
      {"year":2016.787,"value":7.925,"series":"黃金交叉策略（死亡交叉出場，空手不計息）"},
      {"year":2016.848,"value":7.672,"series":"黃金交叉策略（死亡交叉出場，空手不計息）"},
      {"year":2016.94,"value":8.348,"series":"黃金交叉策略（死亡交叉出場，空手不計息）"},
      {"year":2017.032,"value":8.401,"series":"黃金交叉策略（死亡交叉出場，空手不計息）"},
      {"year":2017.124,"value":8.512,"series":"黃金交叉策略（死亡交叉出場，空手不計息）"},
      {"year":2017.185,"value":8.853,"series":"黃金交叉策略（死亡交叉出場，空手不計息）"},
      {"year":2017.277,"value":8.737,"series":"黃金交叉策略（死亡交叉出場，空手不計息）"},
      {"year":2017.369,"value":8.911,"series":"黃金交叉策略（死亡交叉出場，空手不計息）"},
      {"year":2017.461,"value":9.087,"series":"黃金交叉策略（死亡交叉出場，空手不計息）"},
      {"year":2017.584,"value":9.204,"series":"黃金交叉策略（死亡交叉出場，空手不計息）"},
      {"year":2017.676,"value":9.204,"series":"黃金交叉策略（死亡交叉出場，空手不計息）"},
      {"year":2017.768,"value":9.511,"series":"黃金交叉策略（死亡交叉出場，空手不計息）"},
      {"year":2017.86,"value":9.696,"series":"黃金交叉策略（死亡交叉出場，空手不計息）"},
      {"year":2017.952,"value":9.954,"series":"黃金交叉策略（死亡交叉出場，空手不計息）"},
      {"year":2018.044,"value":10.35,"series":"黃金交叉策略（死亡交叉出場，空手不計息）"},
      {"year":2018.087,"value":10.76,"series":"黃金交叉策略（死亡交叉出場，空手不計息）"},
      {"year":2018.123,"value":9.572,"series":"黃金交叉策略（死亡交叉出場，空手不計息）"},
      {"year":2018.197,"value":10.49,"series":"黃金交叉策略（死亡交叉出場，空手不計息）"},
      {"year":2018.258,"value":9.761,"series":"黃金交叉策略（死亡交叉出場，空手不計息）"},
      {"year":2018.35,"value":10.15,"series":"黃金交叉策略（死亡交叉出場，空手不計息）"},
      {"year":2018.442,"value":10.35,"series":"黃金交叉策略（死亡交叉出場，空手不計息）"},
      {"year":2018.535,"value":10.55,"series":"黃金交叉策略（死亡交叉出場，空手不計息）"},
      {"year":2018.627,"value":10.83,"series":"黃金交叉策略（死亡交叉出場，空手不計息）"},
      {"year":2018.718,"value":11.12,"series":"黃金交叉策略（死亡交叉出場，空手不計息）"},
      {"year":2018.78,"value":11.05,"series":"黃金交叉策略（死亡交叉出場，空手不計息）"},
      {"year":2018.81,"value":10.76,"series":"黃金交叉策略（死亡交叉出場，空手不計息）"},
      {"year":2018.841,"value":10.02,"series":"黃金交叉策略（死亡交叉出場，空手不計息）"},
      {"year":2019.25,"value":10.02,"series":"黃金交叉策略（死亡交叉出場，空手不計息）"},
      {"year":2019.332,"value":10.28,"series":"黃金交叉策略（死亡交叉出場，空手不計息）"},
      {"year":2019.393,"value":9.888,"series":"黃金交叉策略（死亡交叉出場，空手不計息）"},
      {"year":2019.455,"value":10.35,"series":"黃金交叉策略（死亡交叉出場，空手不計息）"},
      {"year":2019.547,"value":10.83,"series":"黃金交叉策略（死亡交叉出場，空手不計息）"},
      {"year":2019.608,"value":10.28,"series":"黃金交叉策略（死亡交叉出場，空手不計息）"},
      {"year":2019.70,"value":10.69,"series":"黃金交叉策略（死亡交叉出場，空手不計息）"},
      {"year":2019.792,"value":10.55,"series":"黃金交叉策略（死亡交叉出場，空手不計息）"},
      {"year":2019.884,"value":11.19,"series":"黃金交叉策略（死亡交叉出場，空手不計息）"},
      {"year":2019.976,"value":11.64,"series":"黃金交叉策略（死亡交叉出場，空手不計息）"},
      {"year":2020.068,"value":11.94,"series":"黃金交叉策略（死亡交叉出場，空手不計息）"},
      {"year":2020.129,"value":12.26,"series":"黃金交叉策略（死亡交叉出場，空手不計息）"},
      {"year":2020.19,"value":11.05,"series":"黃金交叉策略（死亡交叉出場，空手不計息）"},
      {"year":2020.233,"value":8.186,"series":"黃金交叉策略（死亡交叉出場，空手不計息）"},
      {"year":2020.283,"value":9.447,"series":"黃金交叉策略（死亡交叉出場，空手不計息）"},
      {"year":2020.30,"value":9.386,"series":"黃金交叉策略（死亡交叉出場，空手不計息）"},
      {"year":2020.50,"value":9.386,"series":"黃金交叉策略（死亡交叉出場，空手不計息）"},
      {"year":2020.589,"value":9.68,"series":"黃金交叉策略（死亡交叉出場，空手不計息）"},
      {"year":2020.681,"value":10.76,"series":"黃金交叉策略（死亡交叉出場，空手不計息）"},
      {"year":2020.743,"value":9.699,"series":"黃金交叉策略（死亡交叉出場，空手不計息）"},
      {"year":2020.804,"value":10.49,"series":"黃金交叉策略（死亡交叉出場，空手不計息）"},
      {"year":2020.865,"value":9.761,"series":"黃金交叉策略（死亡交叉出場，空手不計息）"},
      {"year":2020.896,"value":10.76,"series":"黃金交叉策略（死亡交叉出場，空手不計息）"},
      {"year":2020.988,"value":11.19,"series":"黃金交叉策略（死亡交叉出場，空手不計息）"},
      {"year":2021.08,"value":11.49,"series":"黃金交叉策略（死亡交叉出場，空手不計息）"},
      {"year":2021.172,"value":11.79,"series":"黃金交叉策略（死亡交叉出場，空手不計息）"},
      {"year":2021.233,"value":11.94,"series":"黃金交叉策略（死亡交叉出場，空手不計息）"},
      {"year":2021.325,"value":12.66,"series":"黃金交叉策略（死亡交叉出場，空手不計息）"},
      {"year":2021.417,"value":12.91,"series":"黃金交叉策略（死亡交叉出場，空手不計息）"},
      {"year":2021.509,"value":13.17,"series":"黃金交叉策略（死亡交叉出場，空手不計息）"},
      {"year":2021.601,"value":13.61,"series":"黃金交叉策略（死亡交叉出場，空手不計息）"},
      {"year":2021.693,"value":13.78,"series":"黃金交叉策略（死亡交叉出場，空手不計息）"},
      {"year":2021.785,"value":13.34,"series":"黃金交叉策略（死亡交叉出場，空手不計息）"},
      {"year":2021.847,"value":14.24,"series":"黃金交叉策略（死亡交叉出場，空手不計息）"},
      {"year":2021.939,"value":14.33,"series":"黃金交叉策略（死亡交叉出場，空手不計息）"},
      {"year":2022.0,"value":14.62,"series":"黃金交叉策略（死亡交叉出場，空手不計息）"},
      {"year":2022.092,"value":13.96,"series":"黃金交叉策略（死亡交叉出場，空手不計息）"},
      {"year":2022.153,"value":13.0,"series":"黃金交叉策略（死亡交叉出場，空手不計息）"},
      {"year":2022.215,"value":12.66,"series":"黃金交叉策略（死亡交叉出場，空手不計息）"},
      {"year":2022.245,"value":13.26,"series":"黃金交叉策略（死亡交叉出場，空手不計息）"},
      {"year":2023.08,"value":13.26,"series":"黃金交叉策略（死亡交叉出場，空手不計息）"},
      {"year":2023.135,"value":13.61,"series":"黃金交叉策略（死亡交叉出場，空手不計息）"},
      {"year":2023.227,"value":12.75,"series":"黃金交叉策略（死亡交叉出場，空手不計息）"},
      {"year":2023.288,"value":13.43,"series":"黃金交叉策略（死亡交叉出場，空手不計息）"},
      {"year":2023.411,"value":13.61,"series":"黃金交叉策略（死亡交叉出場，空手不計息）"},
      {"year":2023.472,"value":13.96,"series":"黃金交叉策略（死亡交叉出場，空手不計息）"},
      {"year":2023.533,"value":14.91,"series":"黃金交叉策略（死亡交叉出場，空手不計息）"},
      {"year":2023.625,"value":15.1,"series":"黃金交叉策略（死亡交叉出場，空手不計息）"},
      {"year":2023.717,"value":14.71,"series":"黃金交叉策略（死亡交叉出場，空手不計息）"},
      {"year":2023.809,"value":14.14,"series":"黃金交叉策略（死亡交叉出場，空手不計息）"},
      {"year":2023.84,"value":13.69,"series":"黃金交叉策略（死亡交叉出場，空手不計息）"},
      {"year":2023.901,"value":14.91,"series":"黃金交叉策略（死亡交叉出場，空手不計息）"},
      {"year":2023.993,"value":15.6,"series":"黃金交叉策略（死亡交叉出場，空手不計息）"},
      {"year":2024.085,"value":16.32,"series":"黃金交叉策略（死亡交叉出場，空手不計息）"},
      {"year":2024.177,"value":16.87,"series":"黃金交叉策略（死亡交叉出場，空手不計息）"},
      {"year":2024.269,"value":17.31,"series":"黃金交叉策略（死亡交叉出場，空手不計息）"},
      {"year":2024.331,"value":16.54,"series":"黃金交叉策略（死亡交叉出場，空手不計息）"},
      {"year":2024.423,"value":17.54,"series":"黃金交叉策略（死亡交叉出場，空手不計息）"},
      {"year":2024.515,"value":18.12,"series":"黃金交叉策略（死亡交叉出場，空手不計息）"},
      {"year":2024.576,"value":18.96,"series":"黃金交叉策略（死亡交叉出場，空手不計息）"},
      {"year":2024.637,"value":17.42,"series":"黃金交叉策略（死亡交叉出場，空手不計息）"},
      {"year":2024.699,"value":18.6,"series":"黃金交叉策略（死亡交叉出場，空手不計息）"},
      {"year":2024.791,"value":19.09,"series":"黃金交叉策略（死亡交叉出場，空手不計息）"},
      {"year":2024.882,"value":19.85,"series":"黃金交叉策略（死亡交叉出場，空手不計息）"},
      {"year":2024.975,"value":20.37,"series":"黃金交叉策略（死亡交叉出場，空手不計息）"},
      {"year":2025.067,"value":20.64,"series":"黃金交叉策略（死亡交叉出場，空手不計息）"},
      {"year":2025.158,"value":20.64,"series":"黃金交叉策略（死亡交叉出場，空手不計息）"},
      {"year":2025.22,"value":18.84,"series":"黃金交叉策略（死亡交叉出場，空手不計息）"},
      {"year":2025.281,"value":18.48,"series":"黃金交叉策略（死亡交叉出場，空手不計息）"},
      {"year":2025.312,"value":16.87,"series":"黃金交叉策略（死亡交叉出場，空手不計息）"},
      {"year":2025.373,"value":17.77,"series":"黃金交叉策略（死亡交叉出場，空手不計息）"},
      {"year":2025.49,"value":17.77,"series":"黃金交叉策略（死亡交叉出場，空手不計息）"},
      {"year":2025.588,"value":18.12,"series":"黃金交叉策略（死亡交叉出場，空手不計息）"},
      {"year":2025.68,"value":18.6,"series":"黃金交叉策略（死亡交叉出場，空手不計息）"},
      {"year":2025.772,"value":19.09,"series":"黃金交叉策略（死亡交叉出場，空手不計息）"},
      {"year":2025.864,"value":19.59,"series":"黃金交叉策略（死亡交叉出場，空手不計息）"},
      {"year":2025.956,"value":19.98,"series":"黃金交叉策略（死亡交叉出場，空手不計息）"},
      {"year":2026.048,"value":20.11,"series":"黃金交叉策略（死亡交叉出場，空手不計息）"},
      {"year":2026.17,"value":20.11,"series":"黃金交叉策略（死亡交叉出場，空手不計息）"},
      {"year":2026.232,"value":19.33,"series":"黃金交叉策略（死亡交叉出場，空手不計息）"},
      {"year":2026.262,"value":18.48,"series":"黃金交叉策略（死亡交叉出場，空手不計息）"},
      {"year":2026.324,"value":20.64,"series":"黃金交叉策略（死亡交叉出場，空手不計息）"},
      {"year":2026.385,"value":21.74,"series":"黃金交叉策略（死亡交叉出場，空手不計息）"},
      {"year":2026.446,"value":22.17,"series":"黃金交叉策略（死亡交叉出場，空手不計息）"},
      {"year":2026.49,"value":21.74,"series":"黃金交叉策略（死亡交叉出場，空手不計息）"},
      {"year":2026.53,"value":22.17,"series":"黃金交叉策略（死亡交叉出場，空手不計息）"}
    ]
  },
  "encoding": {
    "x": {
      "field": "year",
      "type": "quantitative",
      "scale": {"domain": [1991.424, 2028.2], "nice": false, "zero": false},
      "axis": {
        "values": [1992, 1996, 2000, 2004, 2008, 2012, 2016, 2020, 2024, 2028],
        "format": "d",
        "title": "資料來源：Yahoo Finance 調整後收盤價（含息）1993/2～2026/7｜訊號：50 日均線 × 200 日均線，次日成交｜BOS 投資百科自行回測"
      }
    }
  },
  "layer": [
    {
      "data": {"name": "bands"},
      "mark": {"type": "rect", "color": "#EBD7BB", "opacity": 0.4},
      "encoding": {"x2": {"field": "year_end"}}
    },
    {
      "encoding": {
        "y": {
          "field": "value",
          "type": "quantitative",
          "scale": {"type": "log", "domain": [0.786, 36.89], "nice": false},
          "axis": {"values": [1, 2, 5, 10, 20, 30], "labelExpr": "datum.value + '萬'", "title": null}
        },
        "color": {
          "field": "series",
          "type": "nominal",
          "scale": {
            "domain": ["買進持有", "黃金交叉策略（死亡交叉出場，空手不計息）"],
            "range": ["#F3961E", "#2E9E62"]
          },
          "legend": {"title": null}
        }
      },
      "layer": [
        {"data": {"name": "buyhold"}, "mark": {"type": "line", "strokeWidth": 4.6, "strokeJoin": "round"}},
        {"data": {"name": "golden"}, "mark": {"type": "line", "strokeWidth": 4.6, "strokeJoin": "round"}}
      ]
    }
  ]
}
